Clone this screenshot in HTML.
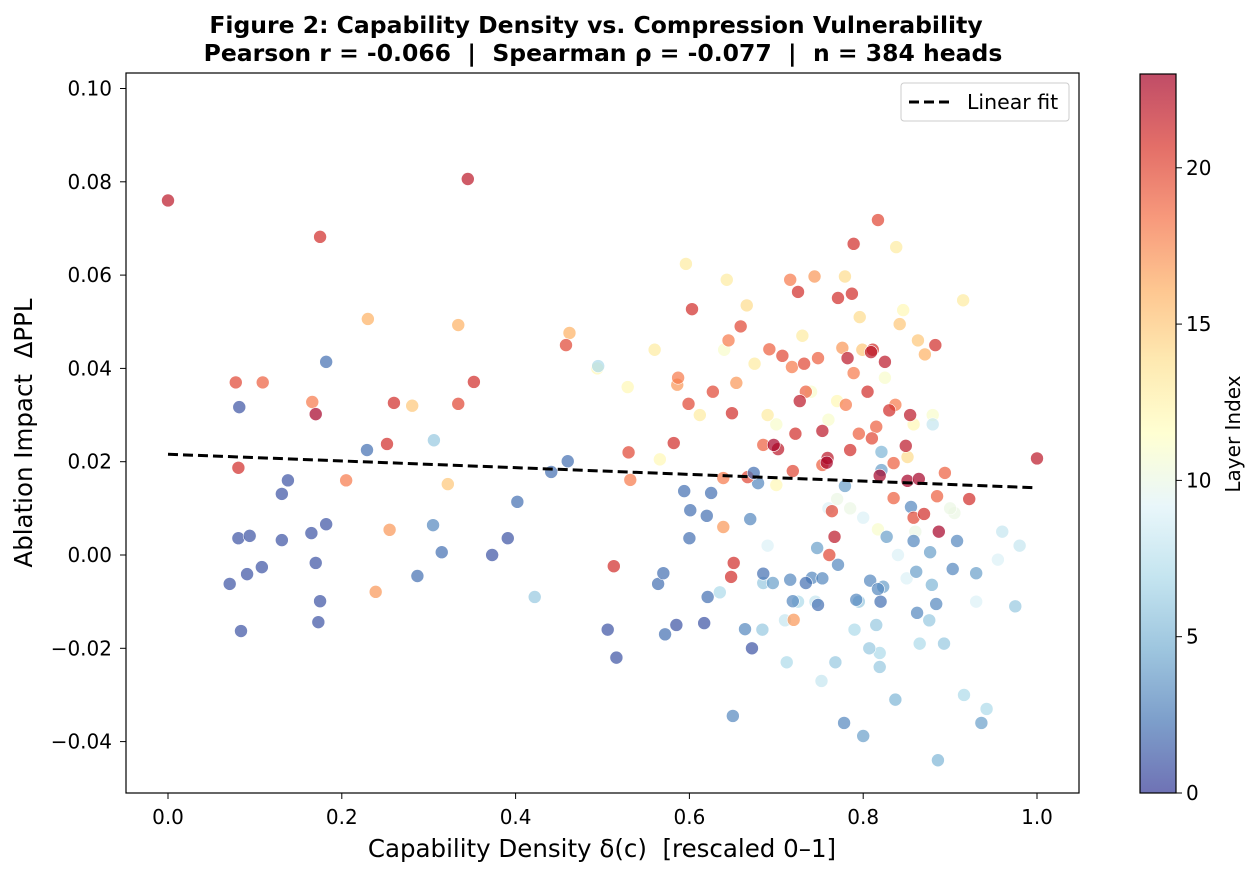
<!DOCTYPE html>
<html><head><meta charset="utf-8">
<style>
body{margin:0;background:#fff;font-family:"Liberation Sans","DejaVu Sans",sans-serif;}
svg text{font-family:"DejaVu Sans","Liberation Sans",sans-serif;}
</style></head>
<body>
<svg id="chart" width="1259" height="875" viewBox="0 0 1259 875" xmlns="http://www.w3.org/2000/svg">
<defs>
<linearGradient id="cmap" x1="0" y1="1" x2="0" y2="0">
<stop offset="0" stop-color="#313695"/><stop offset="0.1" stop-color="#4575b4"/><stop offset="0.2" stop-color="#74add1"/><stop offset="0.3" stop-color="#abd9e9"/><stop offset="0.4" stop-color="#e0f3f8"/><stop offset="0.5" stop-color="#ffffbf"/><stop offset="0.6" stop-color="#fee090"/><stop offset="0.7" stop-color="#fdae61"/><stop offset="0.8" stop-color="#f46d43"/><stop offset="0.9" stop-color="#d73027"/><stop offset="1" stop-color="#a50026"/>
</linearGradient>
<clipPath id="clip"><rect x="126" y="73" width="953" height="720"/></clipPath>
</defs>
<text x="596" y="33" text-anchor="middle" font-size="23.5" font-weight="bold">Figure 2: Capability Density vs. Compression Vulnerability</text>
<text x="603" y="61" text-anchor="middle" font-size="23.5" font-weight="bold" xml:space="preserve">Pearson r = -0.066  |  Spearman ρ = -0.077  |  n = 384 heads</text>
<g id="points" clip-path="url(#clip)"></g>
<g id="fit"></g>
<rect x="126" y="73" width="953" height="720" fill="none" stroke="#000" stroke-width="1.2"/>
<g id="xaxis"></g>
<g id="yaxis"></g>
<text x="602" y="857" text-anchor="middle" font-size="24.5" xml:space="preserve">Capability Density δ(c)  [rescaled 0–1]</text>
<text transform="translate(32,433) rotate(-90)" text-anchor="middle" font-size="24.5" xml:space="preserve">Ablation Impact  ΔPPL</text>
<g>
<rect x="901" y="83" width="168" height="38" rx="3" fill="#fff" fill-opacity="0.85" stroke="#ccc"/>
<line x1="909" y1="102" x2="951" y2="102" stroke="#000" stroke-width="3" stroke-dasharray="10,5"/>
<text x="967" y="109" font-size="20.5">Linear fit</text>
</g>
<g>
<rect x="1140" y="74" width="36" height="719" fill="url(#cmap)" opacity="0.7"/>
<rect x="1140" y="74" width="36" height="719" fill="none" stroke="#000" stroke-width="1.2"/>
<g id="cbticks"></g>
<text transform="translate(1240,434) rotate(-90)" text-anchor="middle" font-size="20">Layer Index</text>
</g>
</svg>
<script>
// [x, y, layer]
const xs = [0.071,0.081,0.082,0.084,0.091,0.094,0.108,0.131,0.131,0.138,0.165,0.170,0.173,0.175,0.182,0.182,0.229,0.287,0.305,0.315,0.373,0.391,0.402,0.441,0.460,0.506,0.516,0.564,0.570,0.572,0.585,0.594,0.600,0.601,0.620,0.621,0.625,0.617,0.650,0.664,0.672,0.670,0.674,0.679,0.685,0.696,0.716,0.719,0.734,0.741,0.747,0.748,0.753,0.778,0.771,0.779,0.792,0.800,0.808,0.817,0.820,0.821,0.821,0.823,0.827,0.837,0.855,0.858,0.861,0.862,0.877,0.879,0.884,0.908,0.903,0.930,0.936,0.886,0.975,
0.000,0.078,0.081,0.109,0.166,0.170,0.175,0.205,0.230,0.239,0.252,0.255,0.260,0.281,0.322,0.334,0.334,0.345,0.352,0.458,0.462,0.532,0.513,0.530,0.582,0.587,0.586,0.599,0.603,0.627,0.639,0.639,0.645,0.648,0.649,0.651,0.654,0.659,0.667,0.685,0.692,0.697,0.702,0.707,0.716,0.718,0.719,0.720,0.722,0.725,0.727,0.732,0.734,0.744,0.748,0.753,0.753,0.758,0.759,0.761,0.764,0.767,0.771,0.776,0.780,0.782,0.785,0.787,0.789,0.789,0.795,0.805,0.809,0.811,0.810,0.815,0.817,0.819,0.825,0.830,0.835,0.835,0.837,0.849,0.851,0.854,0.858,0.864,0.870,0.883,0.885,0.887,0.894,1.000,0.922,
0.596,0.643,0.666,0.675,0.779,0.796,0.838,0.842,0.863,0.871,0.799,0.851,0.915,0.494,0.529,0.566,0.690,0.740,0.770,0.825,0.858,0.612,0.700,0.760,0.880,0.846,0.730,0.700,0.640,0.905,0.560,0.785,0.817,
0.495,0.306,0.422,0.635,0.684,0.685,0.768,0.790,0.795,0.807,0.815,0.865,0.916,0.942,0.893,0.876,0.712,0.725,0.819,0.819,0.752,0.760,0.745,0.690,0.930,0.880,0.955,0.710,0.800,0.860,0.770,0.840,0.900,0.960,0.980,0.850];
const ys = [-0.0062,0.0036,0.0317,-0.0163,-0.0041,0.0041,-0.0026,0.0131,0.0032,0.0160,0.0047,-0.0017,-0.0144,-0.0099,0.0414,0.0066,0.0225,-0.0045,0.0064,0.0006,0.0000,0.0036,0.0114,0.0178,0.0201,-0.0160,-0.0220,-0.0062,-0.0039,-0.0170,-0.0150,0.0137,0.0036,0.0096,0.0084,-0.0090,0.0133,-0.0146,-0.0345,-0.0159,-0.0200,0.0077,0.0176,0.0154,-0.0040,-0.0060,-0.0053,-0.0099,-0.0060,-0.0049,0.0015,-0.0107,-0.0050,-0.0360,-0.0021,0.0148,-0.0096,-0.0388,-0.0055,-0.0073,-0.0100,0.0182,0.0221,-0.0068,0.0039,-0.0310,0.0103,0.0030,-0.0036,-0.0124,0.0006,-0.0064,-0.0105,0.0030,-0.0030,-0.0039,-0.0360,-0.0440,-0.0110,
0.0760,0.0370,0.0187,0.0370,0.0328,0.0302,0.0682,0.0160,0.0506,-0.0079,0.0238,0.0054,0.0326,0.0320,0.0152,0.0493,0.0324,0.0806,0.0371,0.0450,0.0476,0.0161,-0.0024,0.0220,0.0240,0.0380,0.0365,0.0324,0.0527,0.0350,0.0165,0.0060,0.0460,-0.0047,0.0304,-0.0017,0.0369,0.0490,0.0167,0.0236,0.0441,0.0236,0.0227,0.0427,0.0590,0.0403,0.0180,-0.0139,0.0260,0.0564,0.0330,0.0410,0.0350,0.0597,0.0422,0.0266,0.0193,0.0198,0.0208,0.0000,0.0094,0.0039,0.0551,0.0444,0.0322,0.0422,0.0225,0.0560,0.0667,0.0390,0.0260,0.0350,0.0435,0.0440,0.0250,0.0275,0.0718,0.0170,0.0414,0.0310,0.0122,0.0197,0.0322,0.0234,0.0159,0.0300,0.0080,0.0163,0.0088,0.0450,0.0126,0.0050,0.0176,0.0207,0.0120,
0.0624,0.0590,0.0535,0.0410,0.0597,0.0510,0.0660,0.0495,0.0460,0.0430,0.0440,0.0210,0.0546,0.0400,0.0360,0.0205,0.0300,0.0350,0.0330,0.0380,0.0280,0.0300,0.0280,0.0290,0.0300,0.0525,0.0470,0.0150,0.0440,0.0090,0.0440,0.0100,0.0055,
0.0405,0.0246,-0.0090,-0.0080,-0.0160,-0.0060,-0.0230,-0.0160,-0.0100,-0.0200,-0.0150,-0.0190,-0.0300,-0.0330,-0.0190,-0.0140,-0.0230,-0.0100,-0.0210,-0.0240,-0.0270,0.0100,-0.0100,0.0020,-0.0100,0.0280,-0.0010,-0.0140,0.0080,0.0050,0.0120,0.0000,0.0100,0.0050,0.0020,-0.0050];
const layers = [1,1,1,1,1,1,1,1,1,1,1,1,1,1,2,1,2,2,3,2,1,1,2,2,2,1,1,2,2,2,1,2,2,2,2,2,2,1,3,3,1,3,2,3,2,4,3,3,2,3,4,2,3,3,3,4,3,4,3,3,2,4,5,4,4,5,3,3,4,3,4,5,3,3,3,4,4,5,6,
22,20,21,19,18,23,21,18,16,17,21,17,21,15,15,16,20,22,21,20,16,18,21,20,21,18,17,20,21,20,18,17,18,21,21,21,17,20,20,19,19,23,22,20,18,18,20,17,21,21,22,20,19,17,19,22,19,23,22,20,20,22,21,17,18,22,21,21,21,18,19,21,22,21,20,19,20,23,22,21,19,19,18,22,23,22,20,23,21,21,19,23,19,22,21,
13,13,14,13,14,14,13,15,15,16,15,14,13,12,12,12,13,11,12,11,12,13,11,11,11,12,13,12,11,10,13,10,11,
7,6,6,7,6,6,6,7,6,6,6,7,7,7,6,6,7,7,7,6,8,9,8,9,9,8,9,8,9,10,10,9,10,8,8,9];
const fitSlope = -0.0072, fitIntercept = 0.0216;
const xTicks = [0.0,0.2,0.4,0.6,0.8,1.0];
const yTicks = [-0.04,-0.02,0.00,0.02,0.04,0.06,0.08,0.10];
const cbTicks = [0,5,10,15,20];
const layerMax = 23;

const NS="http://www.w3.org/2000/svg";
const X = v => 168 + v*869;
const Y = v => 555 - v*4665;
const CB = v => 793 - v*(719/layerMax);
const stops=[[49,54,149],[69,117,180],[116,173,209],[171,217,233],[224,243,248],[255,255,191],[254,224,144],[253,174,97],[244,109,67],[215,48,39],[165,0,38]];
function cmap(t){t=Math.max(0,Math.min(1,t))*10;const i=Math.min(9,Math.floor(t)),f=t-i;const a=stops[i],b=stops[i+1];return `rgb(${a.map((c,k)=>Math.round(c+(b[k]-c)*f)).join(',')})`;}
const pg=document.getElementById('points');
const order=xs.map((_,i)=>i);
order.sort((a,b)=>Math.abs(layers[a]-11.5)-Math.abs(layers[b]-11.5));
for(const i of order){
  const c=document.createElementNS(NS,'circle');
  c.setAttribute('cx',X(xs[i]));c.setAttribute('cy',Y(ys[i]));c.setAttribute('r',6.5);
  c.setAttribute('fill',cmap(layers[i]/layerMax));c.setAttribute('fill-opacity',0.7);
  c.setAttribute('stroke','#fff');c.setAttribute('stroke-width',0.6);
  
  
  pg.appendChild(c);
}
const fl=document.createElementNS(NS,'line');
fl.setAttribute('x1',X(0));fl.setAttribute('y1',Y(fitIntercept));
fl.setAttribute('x2',X(1));fl.setAttribute('y2',Y(fitIntercept+fitSlope));
fl.setAttribute('stroke','#000');fl.setAttribute('stroke-width',3);fl.setAttribute('stroke-dasharray','10,5');


document.getElementById('fit').appendChild(fl);
const xa=document.getElementById('xaxis');
for(const t of xTicks){
  const l=document.createElementNS(NS,'line');l.setAttribute('x1',X(t));l.setAttribute('x2',X(t));l.setAttribute('y1',793);l.setAttribute('y2',799);l.setAttribute('stroke','#000');
  
  
  xa.appendChild(l);
  const tx=document.createElementNS(NS,'text');tx.setAttribute('x',X(t));tx.setAttribute('y',824);tx.setAttribute('text-anchor','middle');tx.setAttribute('font-size','20');tx.textContent=t.toFixed(1);
  
  
  xa.appendChild(tx);
}
const ya=document.getElementById('yaxis');
for(const t of yTicks){
  const l=document.createElementNS(NS,'line');l.setAttribute('x1',120);l.setAttribute('x2',126);l.setAttribute('y1',Y(t));l.setAttribute('y2',Y(t));l.setAttribute('stroke','#000');
  
  
  ya.appendChild(l);
  const tx=document.createElementNS(NS,'text');tx.setAttribute('x',112);tx.setAttribute('y',Y(t)+7);tx.setAttribute('text-anchor','end');tx.setAttribute('font-size','20');
  tx.textContent=(t<0?'\u2212':'')+Math.abs(t).toFixed(2);
  
  
  ya.appendChild(tx);
}
const cb=document.getElementById('cbticks');
for(const t of cbTicks){
  const l=document.createElementNS(NS,'line');l.setAttribute('x1',1176);l.setAttribute('x2',1182);l.setAttribute('y1',CB(t));l.setAttribute('y2',CB(t));l.setAttribute('stroke','#000');
  
  
  cb.appendChild(l);
  const tx=document.createElementNS(NS,'text');tx.setAttribute('x',1186);tx.setAttribute('y',CB(t)+7);tx.setAttribute('font-size','20');tx.textContent=t;
  
  
  cb.appendChild(tx);
}
</script>
</body></html>
